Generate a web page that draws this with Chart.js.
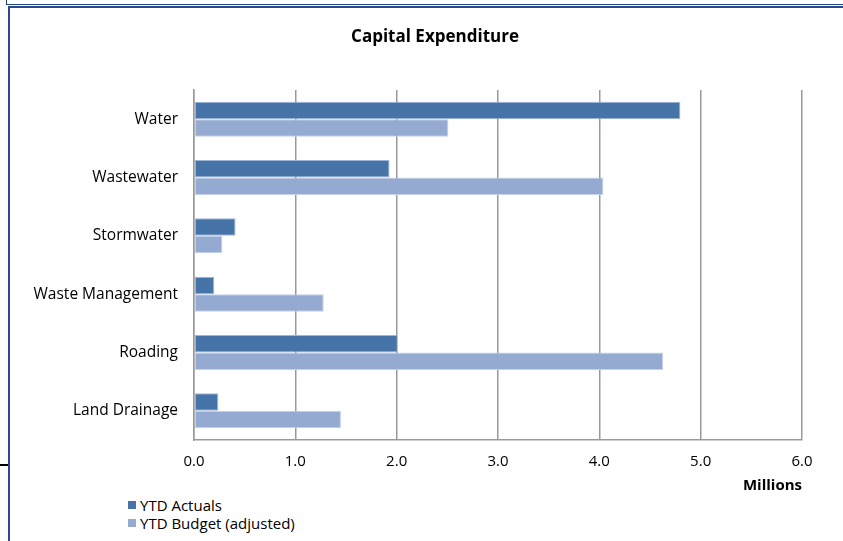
<!DOCTYPE html>
<html>
<head>
<meta charset="utf-8">
<script src="https://cdn.jsdelivr.net/npm/chart.js@4"></script>
<style>
  html, body { margin: 0; padding: 0; background: #fff; }
  body { width: 843px; height: 541px; position: relative; overflow: hidden; font-family: 'Open Sans', sans-serif; }
  /* double frame lines of the report page */
  .frame-outer { position: absolute; left: 6px; top: 0; width: 900px; height: 4px; border-left: 1px solid #1f3f86; border-bottom: 1px solid #1f3f86; }
  .frame-inner { position: absolute; left: 8px; top: 6px; width: 900px; height: 600px; border-left: 2px solid #2a4a8e; border-top: 2px solid #2a4a8e; }
  .tick-mark { position: absolute; left: 0; top: 464px; width: 8px; height: 2px; background: #000; }
  #wrap { position: absolute; left: 10px; top: 8px; width: 833px; height: 487px; }
  #legend { position: absolute; left: 128px; top: 496px; font-size: 15px; color: #000; }
  #legend div { height: 18px; line-height: 18px; display: flex; align-items: center; }
  #legend span.box { width: 8px; height: 8px; margin-right: 4px; display: inline-block; }
</style>
</head>
<body>
<div class="frame-outer"></div>
<div class="frame-inner"></div>
<div class="tick-mark"></div>
<div id="wrap"><canvas id="capexChart"></canvas></div>
<div id="legend"></div>
<script>
/* ── data ── */
const categories = ['Water', 'Wastewater', 'Stormwater', 'Waste Management', 'Roading', 'Land Drainage'];
const ytdActuals = [4.80, 1.93, 0.41, 0.20, 2.01, 0.24];
const ytdBudget  = [2.51, 4.04, 0.28, 1.28, 4.63, 1.45];
const seriesNames = ['YTD Actuals', 'YTD Budget (adjusted)'];
const seriesColors = ['#4674a8', '#95aad1'];

const FONT = "'Open Sans', sans-serif";

// title drawn off-centre like the original sheet
const titlePlugin = {
  id: 'sheetTitle',
  afterDraw(chart) {
    const ctx = chart.ctx;
    ctx.save();
    ctx.font = "bold 17px " + FONT;
    ctx.fillStyle = '#000';
    ctx.textAlign = 'center';
    ctx.textBaseline = 'middle';
    ctx.fillText('Capital Expenditure', 425, 29);
    ctx.restore();
  }
};

const capexChart = new Chart(document.getElementById('capexChart'), {
  type: 'bar',
  data: {
    labels: categories,
    datasets: [
      { label: seriesNames[0], data: ytdActuals, backgroundColor: seriesColors[0], borderColor: '#9fb5d6', borderWidth: 1, borderSkipped: false },
      { label: seriesNames[1], data: ytdBudget,  backgroundColor: seriesColors[1], borderColor: '#c3d1ea', borderWidth: 1, borderSkipped: false }
    ]
  },
  options: {
    indexAxis: 'y',
    responsive: true,
    maintainAspectRatio: false,
    animation: false,
    layout: { padding: { top: 82, right: 41, bottom: 0, left: 0 } },
    datasets: { bar: { categoryPercentage: 0.6, barPercentage: 1.0 } },
    plugins: {
      legend: { display: false },
      tooltip: { enabled: false }
    },
    scales: {
      x: {
        min: 0, max: 6,
        ticks: { stepSize: 1, padding: 13, color: '#000', font: { family: FONT, size: 15 }, callback: v => Number(v).toFixed(1) },
        grid: { color: '#999', lineWidth: 1.5, drawTicks: false },
        border: { display: true, color: '#999', width: 1.5 },
        title: { display: true, text: 'Millions', align: 'end', color: '#000', font: { family: FONT, size: 15, weight: 'bold' }, padding: { top: 0, bottom: 0 } },
        afterFit: s => { s.height = 55; }
      },
      y: {
        ticks: { padding: 16, color: '#000', font: { family: FONT, size: 15.5 } },
        grid: { display: false, drawTicks: false },
        border: { display: true, color: '#999', width: 1.5 },
        afterFit: s => { s.width = 184; }
      }
    }
  },
  plugins: [titlePlugin]
});

// legend stacked at lower left
const legendEl = document.getElementById('legend');
capexChart.data.datasets.forEach(ds => {
  const row = document.createElement('div');
  row.innerHTML = '<span class="box" style="background:' + ds.backgroundColor + '"></span>' + ds.label;
  legendEl.appendChild(row);
});
</script>
</body>
</html>
